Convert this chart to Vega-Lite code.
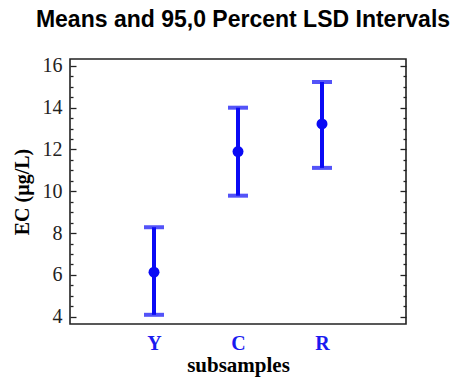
{
  "$schema": "https://vega.github.io/schema/vega-lite/v6.json",
  "width": 336,
  "height": 265,
  "autosize": {"type": "none"},
  "padding": {"left": 70, "top": 59, "right": 49, "bottom": 54},
  "background": "white",
  "title": {
    "text": "Means and 95,0 Percent LSD Intervals",
    "font": "Liberation Sans",
    "fontSize": 23,
    "fontWeight": "bold",
    "color": "black",
    "anchor": "middle",
    "dx": 5,
    "offset": 24
  },
  "config": {
    "view": {"stroke": "#222", "strokeWidth": 1.6},
    "axis": {"grid": false, "domain": false}
  },
  "data": {
    "values": [
      {"subsample": "Y", "mean": 6.13, "lo": 4.09, "hi": 8.28},
      {"subsample": "C", "mean": 11.9, "lo": 9.79, "hi": 14.0},
      {"subsample": "R", "mean": 13.22, "lo": 11.12, "hi": 15.23}
    ]
  },
  "encoding": {
    "x": {
      "field": "subsample",
      "type": "nominal",
      "sort": ["Y", "C", "R"],
      "scale": {"type": "point", "padding": 1.127},
      "axis": {
        "title": "subsamples",
        "titleFont": "Liberation Serif",
        "titleFontSize": 21,
        "titleFontWeight": "bold",
        "titleColor": "black",
        "titlePadding": 1,
        "labelFont": "Liberation Serif",
        "labelFontSize": 20,
        "labelFontWeight": "bold",
        "labelColor": "#1a1af0",
        "labelPadding": 9,
        "labelAngle": 0,
        "ticks": false
      }
    }
  },
  "resolve": {"axis": {"y": "independent"}},
  "layer": [
    {
      "mark": {"type": "rule", "color": "#0a0af5", "strokeWidth": 4},
      "encoding": {
        "y": {
          "field": "lo",
          "type": "quantitative",
          "scale": {"domain": [3.65, 16.33], "nice": false, "zero": false},
          "axis": {
            "orient": "left",
            "values": [4, 4.5, 5, 5.5, 6, 6.5, 7, 7.5, 8, 8.5, 9, 9.5, 10, 10.5, 11, 11.5, 12, 12.5, 13, 13.5, 14, 14.5, 15, 15.5, 16],
            "labelExpr": "datum.value % 2 === 0 ? format(datum.value, 'd') : ''",
            "tickSize": {"condition": {"test": "datum.value % 2 === 0", "value": -6}, "value": -3},
            "tickColor": "#222",
            "tickWidth": 1.3,
            "labelFont": "Liberation Serif",
            "labelFontSize": 20,
            "labelColor": "#222",
            "labelPadding": 14,
            "title": "EC (µg/L)",
            "titleFont": "Liberation Serif",
            "titleFontSize": 20,
            "titleFontWeight": "bold",
            "titleColor": "black",
            "titlePadding": 10
          }
        },
        "y2": {"field": "hi"}
      }
    },
    {
      "mark": {"type": "tick", "color": "#0a0af5", "thickness": 4, "size": 20},
      "encoding": {
        "y": {
          "field": "lo",
          "type": "quantitative",
          "axis": {
            "orient": "right",
            "values": [4, 4.5, 5, 5.5, 6, 6.5, 7, 7.5, 8, 8.5, 9, 9.5, 10, 10.5, 11, 11.5, 12, 12.5, 13, 13.5, 14, 14.5, 15, 15.5, 16],
            "labels": false,
            "tickSize": {"condition": {"test": "datum.value % 2 === 0", "value": -6}, "value": -3},
            "tickColor": "#222",
            "tickWidth": 1.3,
            "title": null
          }
        }
      }
    },
    {
      "mark": {"type": "tick", "color": "#0a0af5", "thickness": 4, "size": 20},
      "encoding": {
        "y": {"field": "hi", "type": "quantitative", "axis": null}
      }
    },
    {
      "mark": {"type": "point", "filled": true, "color": "#0a0af5", "opacity": 1, "size": 120},
      "encoding": {
        "y": {"field": "mean", "type": "quantitative", "axis": null}
      }
    }
  ]
}
